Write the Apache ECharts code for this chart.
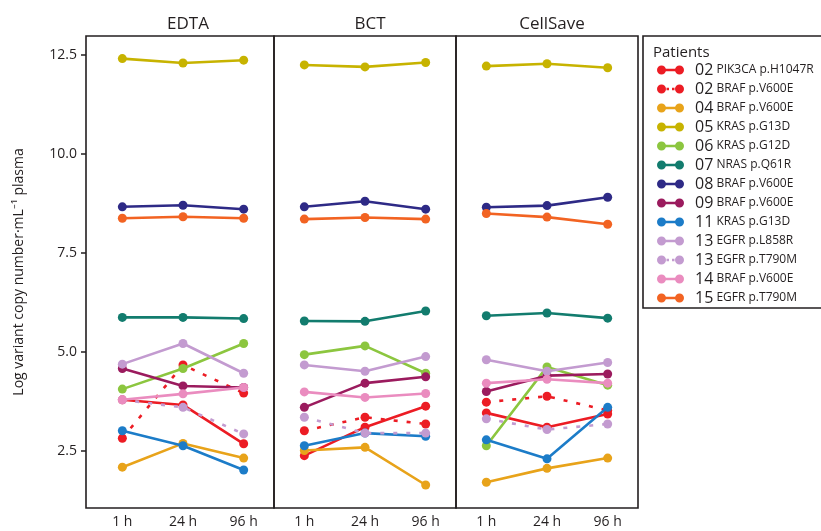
<!DOCTYPE html>
<html><head><meta charset="utf-8">
<script src="https://cdn.jsdelivr.net/npm/echarts@6/dist/echarts.min.js"></script>
<style>html,body{margin:0;padding:0;background:#fff}#c{width:821px;height:531px}</style>
</head><body><div id="c"></div>
<script>
const timepoints = ['1 h', '24 h', '96 h'];
const tubes = ['EDTA', 'BCT', 'CellSave'];
const yTicks = [2.5, 5.0, 7.5, 10.0, 12.5];
const patients = ['02 PIK3CA p.H1047R','02 BRAF p.V600E','04 BRAF p.V600E','05 KRAS p.G13D','06 KRAS p.G12D','07 NRAS p.Q61R','08 BRAF p.V600E','09 BRAF p.V600E','11 KRAS p.G13D','13 EGFR p.L858R','13 EGFR p.T790M','14 BRAF p.V600E','15 EGFR p.T790M'];
const colors = ['#ec1c24','#ec1c24','#e8a31a','#c7b300','#8cc63f','#127c6e','#2e2a86','#9b1b5e','#1c7cc8','#c39bd0','#c39bd0','#ea8cbf','#f26322'];
const dashed = [false,true,false,false,false,false,false,false,false,false,true,false,false];
// values per patient: EDTA(1h,24h,96h), BCT(1h,24h,96h), CellSave(1h,24h,96h)
const v02_PIK3CA = [3.79,3.66,2.68, 2.38,3.10,3.63, 3.46,3.10,3.43];
const v02_BRAF   = [2.82,4.67,3.96, 3.01,3.35,3.18, 3.73,3.88,3.52];
const v04_BRAF   = [2.09,2.69,2.32, 2.51,2.59,1.64, 1.71,2.06,2.32];
const v05_KRAS   = [12.40,12.29,12.36, 12.24,12.19,12.30, 12.21,12.27,12.17];
const v06_KRAS   = [4.06,4.58,5.21, 4.93,5.15,4.46, 2.63,4.62,4.16];
const v07_NRAS   = [5.87,5.87,5.84, 5.78,5.77,6.03, 5.91,5.98,5.85];
const v08_BRAF   = [8.66,8.70,8.60, 8.66,8.80,8.60, 8.65,8.69,8.90];
const v09_BRAF   = [4.58,4.14,4.10, 3.60,4.21,4.37, 4.00,4.40,4.44];
const v11_KRAS   = [3.01,2.63,2.02, 2.63,2.95,2.87, 2.78,2.30,3.60];
const v13_L858R  = [4.69,5.21,4.46, 4.67,4.51,4.88, 4.80,4.51,4.73];
const v13_T790M  = [3.79,3.60,2.93, 3.35,2.95,2.95, 3.31,3.04,3.18];
const v14_BRAF   = [3.79,3.94,4.10, 3.99,3.85,3.95, 4.21,4.31,4.21];
const v15_EGFR   = [8.37,8.41,8.37, 8.35,8.39,8.35, 8.49,8.40,8.22];
const values = [v02_PIK3CA,v02_BRAF,v04_BRAF,v05_KRAS,v06_KRAS,v07_NRAS,v08_BRAF,v09_BRAF,v11_KRAS,v13_L858R,v13_T790M,v14_BRAF,v15_EGFR];

const FONT = 'Open Sans';
const INK = '#231f20';
const yMin = 1.06, yMax = 12.97;
const panelLeft = [92, 274, 456];
const panelW = 182, panelTop = 36, panelH = 472;

const grids = [], xAxes = [], yAxes = [], series = [];
tubes.forEach((t, g) => {
  grids.push({left: panelLeft[g], top: panelTop, width: panelW, height: panelH, show: false});
  xAxes.push({type: 'category', gridIndex: g, data: timepoints, boundaryGap: true,
    axisLine: {show: false}, axisTick: {show: false}, splitLine: {show: false},
    axisLabel: {color: INK, fontFamily: FONT, fontSize: 14, margin: 7}});
  yAxes.push({type: 'value', gridIndex: g, min: yMin, max: yMax,
    offset: g === 0 ? 6 : 0,
    name: g === 0 ? 'Log variant copy number·mL⁻¹ plasma' : '',
    nameLocation: 'middle', nameGap: 60, nameRotate: 90,
    nameTextStyle: {color: INK, fontFamily: FONT, fontSize: 14},
    axisLine: {show: false}, splitLine: {show: false},
    axisTick: {show: g === 0, length: 5, customValues: yTicks, lineStyle: {color: INK, width: 1.5}},
    axisLabel: {show: g === 0, customValues: yTicks, color: INK, fontFamily: FONT, fontSize: 14, margin: 9,
      formatter: v => v.toFixed(1)}});
  patients.forEach((p, i) => {
    series.push({name: p, type: 'line', xAxisIndex: g, yAxisIndex: g,
      data: values[i].slice(g * 3, g * 3 + 3),
      symbol: 'circle', symbolSize: 9, z: 2 + i,
      lineStyle: {color: colors[i], width: 2.6, type: dashed[i] ? [4, 9] : 'solid'},
      itemStyle: {color: colors[i], borderWidth: 0},
      emphasis: {disabled: true}});
  });
});

const solidIcon = 'path://M0,4.5a4.5,4.5 0 1,1 9,0a4.5,4.5 0 1,1 -9,0zM18,4.5a4.5,4.5 0 1,1 9,0a4.5,4.5 0 1,1 -9,0zM8.5,3.3h10v2.4h-10z';
const dashIcon = 'path://M0,4.5a4.5,4.5 0 1,1 9,0a4.5,4.5 0 1,1 -9,0zM18,4.5a4.5,4.5 0 1,1 9,0a4.5,4.5 0 1,1 -9,0zM9.5,3.3h2.5v2.4h-2.5zM15,3.3h2.5v2.4h-2.5z';

const chart = echarts.init(document.getElementById('c'), null, {renderer: 'canvas'});
chart.setOption({
  animation: false,
  backgroundColor: '#fff',
  title: tubes.map((t, g) => ({text: t, left: panelLeft[g] + panelW / 2, top: 11, textAlign: 'center',
    textStyle: {color: INK, fontFamily: FONT, fontSize: 17, fontWeight: 'normal'}}))
    .concat([{text: 'Patients', left: 648, top: 40, textStyle: {color: INK, fontFamily: FONT, fontSize: 15, fontWeight: 'normal'}}]),
  grid: grids, xAxis: xAxes, yAxis: yAxes, series: series,
  legend: {
    orient: 'vertical', left: 652, top: 57, itemWidth: 27, itemHeight: 9, itemGap: 3,
    data: patients.map((p, i) => ({name: p, icon: dashed[i] ? dashIcon : solidIcon})),
    itemStyle: {borderWidth: 0}, lineStyle: {width: 0},
    selectedMode: false,
    formatter: n => '{n|' + n.slice(0, 2) + '} {m|' + n.slice(3) + '}',
    textStyle: {color: INK, fontFamily: FONT, padding: [0, 0, 0, 6],
      rich: {n: {fontSize: 16, fontFamily: FONT, color: INK, lineHeight: 16},
             m: {fontSize: 12, fontFamily: FONT, color: INK, lineHeight: 16}}}
  },
  graphic: [
    {type: 'rect', shape: {x: 86, y: panelTop, width: 188, height: panelH}, style: {fill: 'none', stroke: INK, lineWidth: 1.6}, z: 100},
    {type: 'rect', shape: {x: 274, y: panelTop, width: 182, height: panelH}, style: {fill: 'none', stroke: INK, lineWidth: 1.6}, z: 100},
    {type: 'rect', shape: {x: 456, y: panelTop, width: 182, height: panelH}, style: {fill: 'none', stroke: INK, lineWidth: 1.6}, z: 100},
    {type: 'rect', shape: {x: 643, y: panelTop, width: 200, height: 272}, style: {fill: 'none', stroke: INK, lineWidth: 1.6}, z: 100}
  ]
});
</script></body></html>
